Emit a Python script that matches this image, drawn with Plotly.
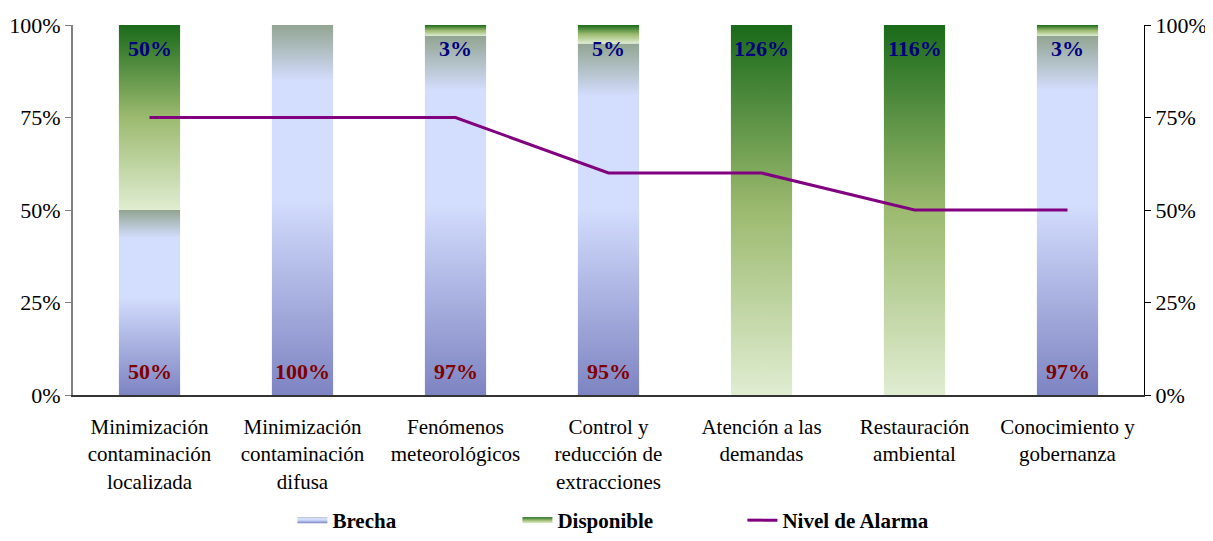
import plotly.graph_objects as go

categories = [
    "Minimización<br>contaminación<br>localizada",
    "Minimización<br>contaminación<br>difusa",
    "Fenómenos<br>meteorológicos",
    "Control y<br>reducción de<br>extracciones",
    "Atención a las<br>demandas",
    "Restauración<br>ambiental",
    "Conocimiento y<br>gobernanza",
]
brecha = [50, 100, 97, 95, 0, 0, 97]
disponible = [50, 0, 3, 5, 126, 116, 3]
alarma = [75, 75, 75, 60, 60, 50, 50]
y_ticks = [0, 25, 50, 75, 100]
y_tick_labels = [f"{v}%" for v in y_ticks]

FONT = "Liberation Serif"
HALF = 0.2
brecha_scale = [[0, "#7d84c2"], [0.53, "#d3ddfd"], [0.85, "#d3ddfd"], [1, "#92a592"]]
disp_scale = [[0, "#e0edd2"], [0.5, "#9cba6f"], [1, "#1a6a1a"]]

fig = go.Figure()

def add_segment(i, base, val, name, scale, show):
    top = min(base + val, 100)
    if top <= base:
        return
    fig.add_trace(go.Scatter(
        x=[i - HALF, i + HALF, i + HALF, i - HALF, i - HALF],
        y=[base, base, top, top, base],
        mode="none", fill="toself",
        fillgradient=dict(type="vertical", colorscale=scale),
        name=name, legendgroup=name, showlegend=show, hoverinfo="skip",
    ))

first_b = True
first_d = True
for i in range(len(categories)):
    if brecha[i] > 0:
        add_segment(i, 0, brecha[i], "Brecha", brecha_scale, first_b)
        first_b = False
for i in range(len(categories)):
    if disponible[i] > 0:
        add_segment(i, brecha[i], disponible[i], "Disponible", disp_scale, first_d)
        first_d = False

fig.add_trace(go.Scatter(
    x=list(range(len(categories))), y=alarma, mode="lines",
    line=dict(color="#800080", width=3), name="Nivel de Alarma", yaxis="y2",
))

for i in range(len(categories)):
    if disponible[i] > 0:
        fig.add_annotation(x=i, y=100, yref="y", xref="x", text=f"<b>{disponible[i]}%</b>",
                           showarrow=False, yanchor="top", yshift=-9,
                           font=dict(family=FONT, size=22, color="#000080"))
    if brecha[i] > 0:
        fig.add_annotation(x=i, y=0, yref="y", xref="x", text=f"<b>{brecha[i]}%</b>",
                           showarrow=False, yanchor="bottom", yshift=9,
                           font=dict(family=FONT, size=22, color="#800000"))

axis_font = dict(family=FONT, size=21, color="black")
ytick_font = dict(family=FONT, size=22, color="black")
fig.update_layout(
    width=1205, height=533,
    margin=dict(l=65, r=69, t=17, b=146),
    plot_bgcolor="white", paper_bgcolor="white",
    font=axis_font,
    xaxis=dict(range=[-0.5, len(categories) - 0.5], tickvals=list(range(len(categories))),
               ticktext=categories, showgrid=False, zeroline=False, automargin=False,
               showline=True, linecolor="#333333", linewidth=1.5, ticks="",
               ticklabelstandoff=12, tickfont=axis_font),
    yaxis=dict(range=[0, 100], tickvals=y_ticks, ticktext=y_tick_labels, automargin=False,
               showgrid=False, zeroline=False, showline=True, linecolor="#808080", linewidth=2,
               ticks="outside", ticklen=6, tickcolor="#808080", tickfont=ytick_font),
    yaxis2=dict(range=[0, 100], tickvals=y_ticks, ticktext=y_tick_labels, automargin=False,
                overlaying="y", side="right", showgrid=False, zeroline=False,
                showline=True, linecolor="black", linewidth=1,
                ticks="outside", ticklen=6, tickcolor="black", tickfont=ytick_font),
    legend=dict(orientation="h", x=0.52, xanchor="center", yref="container", y=0.0,
                yanchor="bottom",
                font=dict(family=FONT, size=21, color="black", weight="bold"),
                entrywidth=180, traceorder="normal"),
)

fig.write_html("out.html")
